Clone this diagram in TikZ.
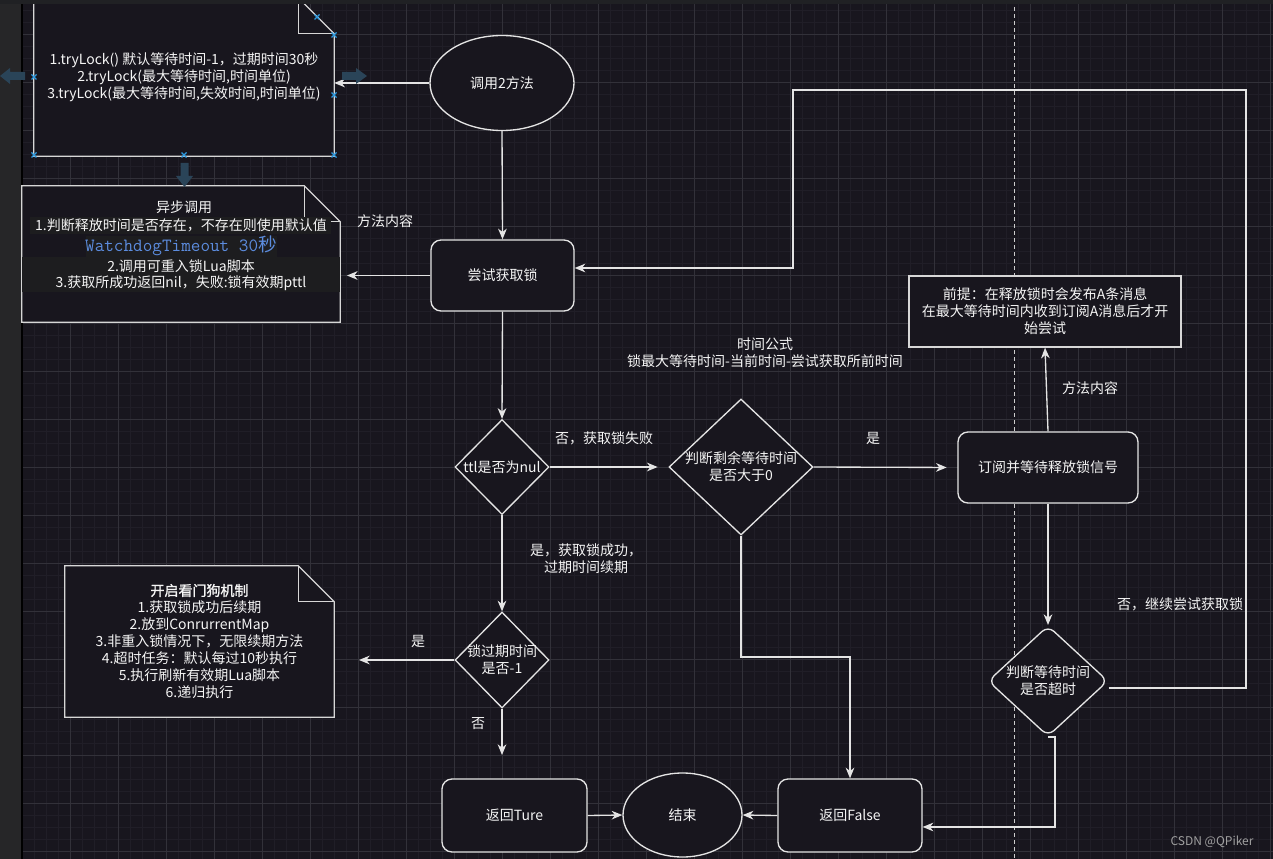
\documentclass[tikz,border=0pt]{standalone}
\usepackage{fontspec}
\setmainfont{Noto Sans CJK SC}[AutoFakeBold=1.5]
\usetikzlibrary{shapes.geometric,arrows.meta,calc}
\pgfdeclarelayer{back}
\pgfdeclarelayer{bg}
\pgfsetlayers{back,bg,main}
\definecolor{bgc}{RGB}{24,22,30}
\definecolor{boxc}{RGB}{24,22,30}
\definecolor{minorc}{RGB}{32,30,39}
\definecolor{majorc}{RGB}{50,49,57}
\definecolor{panelc}{RGB}{38,38,40}
\definecolor{stripc}{RGB}{32,33,36}
\definecolor{linec}{RGB}{228,228,228}
\definecolor{notec}{RGB}{215,215,215}
\definecolor{txtc}{RGB}{245,245,245}
\definecolor{wdc}{RGB}{92,140,222}
\definecolor{hlc}{RGB}{29,29,31}
\definecolor{artc}{RGB}{42,68,88}
\definecolor{handc}{RGB}{45,155,225}
\definecolor{wmc}{RGB}{160,160,160}
\definecolor{dashc}{RGB}{205,205,205}
\newcommand{\drawnote}[1]{%
  \begin{pgfonlayer}{bg}
    \filldraw[draw=notec, fill=boxc, line width=1pt] (#1.north west) -- ($(#1.north east)+(-36,0)$) -- ($(#1.north east)+(0,36)$) -- (#1.south east) -- (#1.south west) -- cycle;
    \draw[draw=notec, line width=1pt] ($(#1.north east)+(-36,0)$) -- ($(#1.north east)+(-36,36)$) -- ($(#1.north east)+(0,36)$);
  \end{pgfonlayer}}
\begin{document}
\begin{tikzpicture}[x=0.75pt,y=-0.75pt,
  txt/.style={text=txtc, font=\fontsize{10.5pt}{12.75pt}\selectfont, align=center, inner sep=0pt},
  notebody/.style={txt, rectangle},
  rbox/.style={txt, rectangle, draw=linec, line width=1pt, fill=boxc, rounded corners=7.5pt},
  ell/.style={txt, ellipse, draw=linec, line width=1pt, fill=boxc},
  dia/.style={txt, diamond, draw=linec, line width=1pt, fill=boxc},
  arr/.style={draw=linec, line width=1pt, -{Stealth[length=8pt,width=6.5pt,inset=2.5pt]}},
]
\useasboundingbox (0,0) rectangle (1273,859);
\begin{pgfonlayer}{back}
  \fill[bgc] (0,0) rectangle (1273,859);
  \foreach \x in {22,34,...,1273} \draw[minorc, line width=0.75pt] (\x,0) -- (\x,859);
  \foreach \y in {11,23,...,859} \draw[minorc, line width=0.75pt] (22,\y) -- (1273,\y);
  \foreach \x in {22,70,...,1273} \draw[majorc, line width=0.75pt] (\x,0) -- (\x,859);
  \foreach \y in {35,83,...,859} \draw[majorc, line width=0.75pt] (22,\y) -- (1273,\y);
  \fill[panelc] (0,0) rectangle (21,859);
  \draw[black, line width=1.2pt] (22,0) -- (22,859);
  \draw[dashc, line width=0.75pt, dash pattern=on 3pt off 2.25pt] (1014,0) -- (1014,859);
\end{pgfonlayer}

% top-left note
\node[notebody, minimum width=225pt, minimum height=118.5pt] (n1) at (184,77) {1.tryLock() 默认等待时间-1，过期时间30秒\\2.tryLock(最大等待时间,时间单位)\\3.tryLock(最大等待时间,失效时间,时间单位)};
\drawnote{n1}

% start ellipse
\node[ell, minimum width=108pt, minimum height=71.25pt] (e1) at (502,83) {调用2方法};

% try lock
\node[rbox, minimum width=107.25pt, minimum height=53.25pt] (r1) at (502.5,275.5) {尝试获取锁};

% async note
\node[notebody, minimum width=238.5pt, minimum height=102pt] (n2) at (181,254) {};
\drawnote{n2}
\fill[hlc] (22,257) rectangle (340,292);
\fill[hlc] (30,217) rectangle (331,234);
\fill[hlc] (86,236) rectangle (277,257);
\node[txt] (n2a) at (184,207) {异步调用};
\node[txt] (n2b) at (181,225) {1.判断释放时间是否存在，不存在则使用默认值};
\node[txt, text=wdc, font=\ttfamily\fontsize{14pt}{16pt}\selectfont] (n2c) at (181,246) {WatchdogTimeout 30{\rmfamily 秒}};
\node[txt] (n2d) at (181,266) {2.调用可重入锁Lua脚本};
\node[txt] (n2e) at (181,283) {3.获取所成功返回nil，失败:锁有效期pttl};

% diamonds
\node[dia, minimum width=70.5pt, minimum height=71.25pt, label={[txt]center:{ttl是否为nul}}] (d1) at (502,467) {};
\node[dia, minimum width=108pt, minimum height=102pt, label={[txt]center:{判断剩余等待时间\\是否大于0}}] (d2) at (741,467) {};
\node[rbox, minimum width=135pt, minimum height=53.25pt] (r2) at (1048,467.5) {订阅并等待释放锁信号};
\node[txt, rectangle, draw=notec, line width=1pt, fill=boxc, minimum width=204pt, minimum height=53.25pt] (n3) at (1045,311.5) {前提：在释放锁时会发布A条消息\\在最大等待时间内收到订阅A消息后才开\\始尝试};
\node[dia, rounded corners=6pt, minimum width=90pt, minimum height=83pt, label={[txt]center:{判断等待时间\\是否超时}}] (d3) at (1048,681) {};
\node[dia, minimum width=70.5pt, minimum height=72pt, label={[txt]center:{锁过期时间\\是否-1}}] (d4) at (502,660) {};

% watchdog note
\node[notebody, minimum width=201.75pt, minimum height=113.25pt] (nw) at (199.5,641.5) {\textbf{开启看门狗机制}\\1.获取锁成功后续期\\2.放到ConrurrentMap\\3.非重入锁情况下，无限续期方法\\4.超时任务：默认每过10秒执行\\5.执行刷新有效期Lua脚本\\6.递归执行};
\drawnote{nw}

% bottom row
\node[rbox, minimum width=108.75pt, minimum height=54.75pt] (rt) at (514.5,815.5) {返回Ture};
\node[ell, minimum width=89.25pt, minimum height=63pt] (fin) at (682.5,815) {结束};
\node[rbox, minimum width=108pt, minimum height=54.75pt] (rf) at (850,815.5) {返回False};

% free ends / bends
\coordinate (k1) at (1246,90);
\coordinate (k2) at (793,268);
\coordinate (k3) at (741,657);
\coordinate (k4) at (359,660);
\coordinate (k5) at (502,755);

% connectors
\draw[arr] (e1.west) -- (e1.west -| n1.east);
\draw[arr] (e1.south) -- (r1.north);
\draw[arr, shorten >=5pt] (r1.west) -- (r1.west -| n2.east);
\draw[arr] (r1.south) -- (d1.north);
\draw[arr, shorten >=8pt] (d1.east) -- (d2.west);
\draw[arr, shorten >=8pt] (d2.east) -- (r2.west);
\draw[arr] (r2.north) -- (n3.south);
\draw[arr] (r2.south) -- (d3.north);
\draw[arr] ([yshift=-5.25pt]d3.east) -| (k1) -| (k2) -- (k2 -| r1.east);
\draw[arr] (d3.south) -- ++(7,0) |- ([yshift=-8.6pt]rf.east);
\draw[arr] (d2.south) -- (k3) -| (rf.north);
\draw[arr] (d1.south) -- (d4.north);
\draw[arr] (d4.west) -- (k4);
\draw[arr] (d4.south) -- (k5);
\draw[arr] (rt.east) -- (fin.west);
\draw[arr] (rf.west) -- (fin.east);

% labels
\node[txt] (l1) at (385,221) {方法内容};
\node[txt] (l2) at (604,438) {否，获取锁失败};
\node[txt] (l3) at (873,438) {是};
\node[txt] (l4) at (765,353) {时间公式\\锁最大等待时间-当前时间-尝试获取所前时间};
\node[txt] (l5) at (1090,388) {方法内容};
\node[txt] (l6) at (586,559) {是，获取锁成功，\\过期时间续期};
\node[txt] (l7) at (418,641) {是};
\node[txt] (l8) at (478,724) {否};
\node[txt] (l9) at (1180,604) {否，继续尝试获取锁};
\node[txt, text=wmc, font=\fontsize{9pt}{11pt}\selectfont] (wm) at (1212,842) {CSDN @QPiker};

% editor artefacts
\fill[artc] (0,76) -- (10,68) -- (10,72) -- (25,72) -- (25,80) -- (10,80) -- (10,84) -- cycle;
\fill[artc] (367,76) -- (356,68) -- (356,72) -- (342,72) -- (342,80) -- (356,80) -- (356,84) -- cycle;
\fill[artc] (184.5,187) -- (176,176) -- (180.5,176) -- (180.5,163) -- (188.5,163) -- (188.5,176) -- (193,176) -- cycle;
\foreach \px/\py in {34/77, 334/95, 34/155, 184/155, 334/155, 334/35, 317/17}
  \draw[handc, line width=1pt] (\px-2.5,\py-2.5) -- (\px+2.5,\py+2.5) (\px-2.5,\py+2.5) -- (\px+2.5,\py-2.5);
\fill[stripc] (0,0) rectangle (1273,4);
\end{tikzpicture}
\end{document}
